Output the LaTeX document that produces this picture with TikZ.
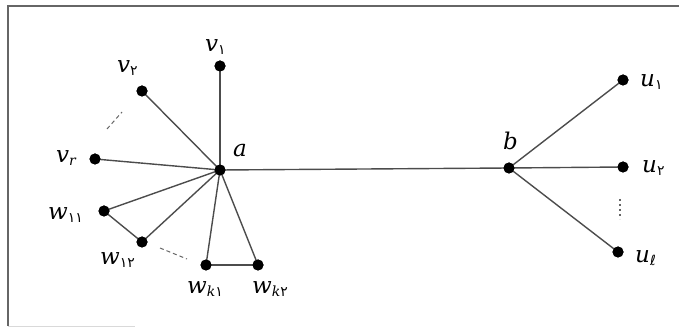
\documentclass[tikz,border=0pt]{standalone}
\usepackage{fontspec}
\setmainfont{DejaVu Serif}
\newfontfamily\fa{DejaVu Sans}
\newcommand{\fsub}[1]{\raisebox{-3pt}{\fontsize{14}{14}\selectfont #1}}
\newcommand{\pd}[1]{{\fa\upshape #1}}
\begin{document}
\begin{tikzpicture}[x=1pt,y=-1pt,
  dot/.style={circle,fill=black,inner sep=0pt,minimum size=11pt},
  edge/.style={draw=black!70,line width=1.4pt},
  lbl/.style={anchor=base west,inner sep=0pt,font=\fontsize{23}{27}\selectfont\itshape},
  frame/.style={draw=black!60,line width=1.8pt}]
\useasboundingbox (0,0) rectangle (679,328);
% frame
\coordinate (f1) at (679,6);
\coordinate (f2) at (8,6);
\coordinate (f3) at (8,326);
\coordinate (f4) at (135,326);
\draw[frame] (f1) -- (f2) -- (f3);
\draw[draw=black!15,line width=1pt] (f3) -- (f4);
% vertices
\node[dot] (a) at (220,170) {};
\node[dot] (b) at (509,168) {};
\node[dot] (v1) at (220,66) {};
\node[dot] (v2) at (142,91) {};
\node[dot] (vr) at (95,159) {};
\node[dot] (w11) at (104,211) {};
\node[dot] (w12) at (142,242) {};
\node[dot] (wk1) at (206,265) {};
\node[dot] (wk2) at (258,265) {};
\node[dot] (u1) at (623,80) {};
\node[dot] (u2) at (623,167) {};
\node[dot] (ul) at (618,252) {};
% edges
\draw[edge] (a.center) -- (b.center);
\draw[edge] (a.center) -- (v1.center);
\draw[edge] (a.center) -- (v2.center);
\draw[edge] (a.center) -- (vr.center);
\draw[edge] (a.center) -- (w11.center);
\draw[edge] (a.center) -- (w12.center);
\draw[edge] (w11.center) -- (w12.center);
\draw[edge] (a.center) -- (wk1.center);
\draw[edge] (a.center) -- (wk2.center);
\draw[edge] (wk1.center) -- (wk2.center);
\draw[edge] (b.center) -- (u1.center);
\draw[edge] (b.center) -- (u2.center);
\draw[edge] (b.center) -- (ul.center);
% redraw dots on top
\foreach \n in {a,b,v1,v2,vr,w11,w12,wk1,wk2,u1,u2,ul}
  \fill (\n) circle (5.5pt);
% dashes
\coordinate (d1) at (107,129);
\coordinate (d2) at (122,112);
\draw[draw=black!60,line width=1pt,dash pattern=on 4pt off 3pt] (d1) -- (d2);
\coordinate (d3) at (160,248);
\coordinate (d4) at (187,259);
\draw[draw=black!60,line width=1pt,dash pattern=on 4pt off 3pt] (d3) -- (d4);
\coordinate (d5) at (620,199);
\coordinate (d6) at (620,219);
\draw[draw=black!60,line width=1.2pt,dash pattern=on 2pt off 3pt] (d5) -- (d6);
% labels
\node[lbl] (la) at (233,157) {a};
\node[lbl] (lb) at (503,150) {b};
\node[lbl] (lv1) at (205,52) {v\fsub{\pd{۱}}};
\node[lbl] (lv2) at (117,73) {v\fsub{\pd{۲}}};
\node[lbl] (lvr) at (56,163) {v\fsub{r}};
\node[lbl] (lw11) at (48,220) {w\fsub{\pd{۱۱}}};
\node[lbl] (lw12) at (100,265) {w\fsub{\pd{۱۲}}};
\node[lbl] (lwk1) at (187,293) {w\fsub{k\pd{۱}}};
\node[lbl] (lwk2) at (252,293) {w\fsub{k\pd{۲}}};
\node[lbl] (lu1) at (640,87) {u\fsub{\pd{۱}}};
\node[lbl] (lu2) at (642,173) {u\fsub{\pd{۲}}};
\node[lbl] (lul) at (635,262) {u\fsub{\pd{ℓ}}};
\end{tikzpicture}
\end{document}
